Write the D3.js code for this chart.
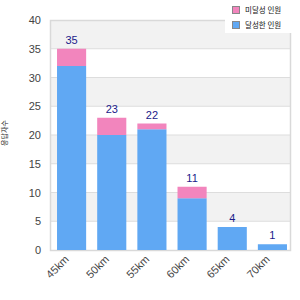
<!DOCTYPE html>
<html><head><meta charset="utf-8">
<script src="https://cdn.jsdelivr.net/npm/d3@7"></script>
<style>body{margin:0;background:#fff}svg{display:block}</style>
</head><body>
<svg id="c" width="300" height="300"></svg>
<script>
const categories = ["45km","50km","55km","60km","65km","70km"];
const blueValues = [32,20,21,9,4,1];
const pinkValues = [3,3,1,2,0,0];
const totals = [35,23,22,11,4,1];
const yTicks = [0,5,10,15,20,25,30,35,40];
const seriesNames = ["미달성 인원","달성한 인원"];
const yTitle = "응답자수";

const svg = d3.select("#c");
const L=50,R=291,T=20,B=250;
const x = d3.scaleBand().domain(categories).range([L+1.5,R+1.5]).paddingInner(0.275).paddingOuter(0.1375);
const y = d3.scaleLinear().domain([0,40]).range([B,T]);
const font = "'Liberation Sans', Arial, sans-serif";

// alternating bands
for (let i=0;i<yTicks.length-1;i++){
  if (i%2===1) svg.append("rect").attr("x",L).attr("y",y(yTicks[i+1])).attr("width",R-L).attr("height",y(yTicks[i])-y(yTicks[i+1])).attr("fill","#f2f2f2");
}
svg.append("g").selectAll("line").data(yTicks.slice(1,-1)).join("line")
  .attr("x1",L).attr("x2",R).attr("y1",d=>y(d)).attr("y2",d=>y(d)).attr("stroke","#dddddd");
svg.append("rect").attr("x",L+0.5).attr("y",T+0.5).attr("width",R-L-1).attr("height",B-T).attr("fill","none").attr("stroke","#d9d9d9").attr("stroke-width",1.5);

// y axis
const ya = svg.append("g").attr("transform",`translate(${L},0)`).call(d3.axisLeft(y).tickValues(yTicks).tickSize(0).tickPadding(9));
ya.select(".domain").remove();
ya.selectAll("text").attr("font-family",font).attr("font-size",11).attr("fill","#444");

// x axis
const xa = svg.append("g").attr("transform",`translate(0,${B})`).call(d3.axisBottom(x).tickSize(0).tickPadding(0));
xa.select(".domain").remove();
xa.selectAll("text").attr("font-family",font).attr("font-size",11).attr("fill","#444")
  .attr("text-anchor","end").attr("dy","0").attr("transform","translate(-2,10) rotate(-45)");

// bars
const bw = x.bandwidth();
svg.append("g").selectAll("rect").data(categories).join("rect")
  .attr("x",d=>x(d)).attr("width",bw)
  .attr("y",(d,i)=>y(blueValues[i])).attr("height",(d,i)=>y(0)-y(blueValues[i])).attr("fill","#60a8f3");
svg.append("g").selectAll("rect").data(categories).join("rect")
  .attr("x",d=>x(d)).attr("width",bw)
  .attr("y",(d,i)=>y(blueValues[i]+pinkValues[i])).attr("height",(d,i)=>y(blueValues[i])-y(blueValues[i]+pinkValues[i])).attr("fill","#f285bd");
svg.append("g").selectAll("text").data(categories).join("text")
  .attr("x",d=>x(d)+bw/2).attr("y",(d,i)=>y(totals[i])-5)
  .attr("text-anchor","middle").attr("font-family",font).attr("font-size",11).attr("fill","#1a1a8a")
  .text((d,i)=>totals[i]);

// y title
svg.append("text").attr("transform","translate(7,133) rotate(-90)").attr("text-anchor","middle")
  .attr("font-family","'Noto Sans CJK KR', sans-serif").attr("font-size",7).attr("fill","#222").text(yTitle);

// legend
svg.append("rect").attr("x",225).attr("y",0).attr("width",75).attr("height",33).attr("fill","#fff");
const colors = ["#f285bd","#60a8f3"];
seriesNames.forEach((n,i)=>{
  svg.append("rect").attr("x",232.5).attr("y",6.5+15*i).attr("width",7).attr("height",7).attr("fill",colors[i]).attr("stroke","#888");
  svg.append("text").attr("x",245).attr("y",13+15*i).attr("font-family","'Noto Sans CJK KR', sans-serif").attr("font-size",7.5).attr("fill","#111").text(n);
});
</script>
</body></html>
